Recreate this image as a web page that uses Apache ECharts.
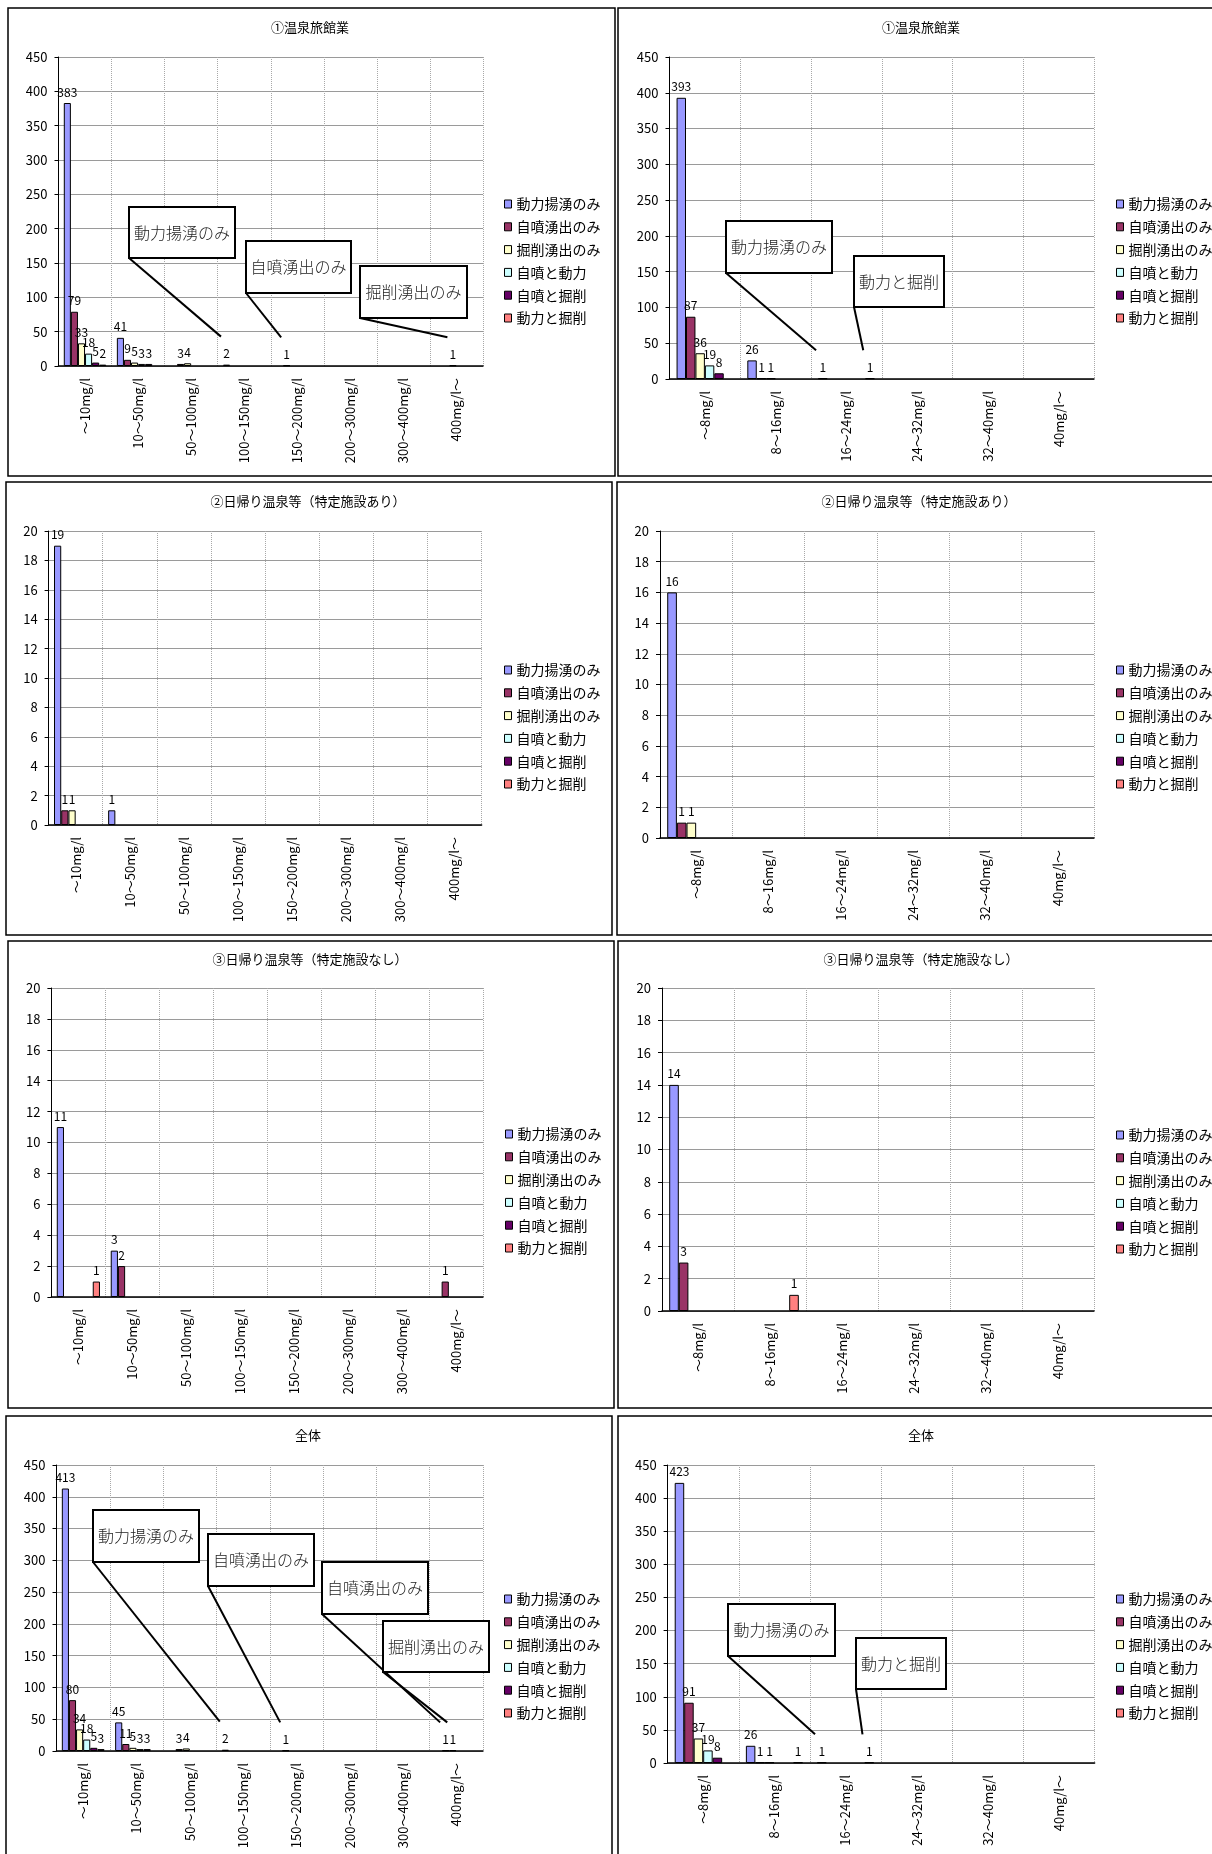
<!DOCTYPE html>
<html>
<head>
<meta charset="utf-8">
<script src="https://cdn.jsdelivr.net/npm/echarts@6/dist/echarts.min.js"></script>
<style>
html,body{margin:0;padding:0;background:#fff;}
#c{width:1212px;height:1854px;}
</style>
</head>
<body>
<div id="c"></div>
<script>
// ---------- DATA ----------
const seriesNames = ['動力揚湧のみ','自噴湧出のみ','掘削湧出のみ','自噴と動力','自噴と掘削','動力と掘削'];
const catsMg10 = ['～10mg/l','10～50mg/l','50～100mg/l','100～150mg/l','150～200mg/l','200～300mg/l','300～400mg/l','400mg/l～'];
const catsMg8 = ['～8mg/l','8～16mg/l','16～24mg/l','24～32mg/l','32～40mg/l','40mg/l～'];
const ticks450 = [0,50,100,150,200,250,300,350,400,450];
const ticks20 = [0,2,4,6,8,10,12,14,16,18,20];

// rows follow seriesNames order
const ryokanL = [
  [383, 41, null, 2, null, null, null, null],
  [79, 9, 3, null, 1, null, null, null],
  [33, 5, 4, null, null, null, null, 1],
  [18, 3, null, null, null, null, null, null],
  [5, 3, null, null, null, null, null, null],
  [2, null, null, null, null, null, null, null]
];
const ryokanR = [
  [393, 26, 1, null, null, null],
  [87, 1, null, null, null, null],
  [36, 1, null, null, null, null],
  [19, null, null, null, null, null],
  [8, null, null, null, null, null],
  [null, null, 1, null, null, null]
];
const withFacL = [
  [19, 1, null, null, null, null, null, null],
  [1, null, null, null, null, null, null, null],
  [1, null, null, null, null, null, null, null],
  [null, null, null, null, null, null, null, null],
  [null, null, null, null, null, null, null, null],
  [null, null, null, null, null, null, null, null]
];
const withFacR = [
  [16, null, null, null, null, null],
  [1, null, null, null, null, null],
  [1, null, null, null, null, null],
  [null, null, null, null, null, null],
  [null, null, null, null, null, null],
  [null, null, null, null, null, null]
];
const noFacL = [
  [11, 3, null, null, null, null, null, null],
  [null, 2, null, null, null, null, null, 1],
  [null, null, null, null, null, null, null, null],
  [null, null, null, null, null, null, null, null],
  [null, null, null, null, null, null, null, null],
  [1, null, null, null, null, null, null, null]
];
const noFacR = [
  [14, null, null, null, null, null],
  [3, null, null, null, null, null],
  [null, null, null, null, null, null],
  [null, null, null, null, null, null],
  [null, null, null, null, null, null],
  [null, 1, null, null, null, null]
];
const totalL = [
  [413, 45, null, 2, null, null, null, null],
  [80, 11, 3, null, 1, null, null, 1],
  [34, 5, 4, null, null, null, null, 1],
  [18, 3, null, null, null, null, null, null],
  [5, 3, null, null, null, null, null, null],
  [3, null, null, null, null, null, null, null]
];
const totalR = [
  [423, 26, 1, null, null, null],
  [91, 1, null, null, null, null],
  [37, 1, null, null, null, null],
  [19, null, null, null, null, null],
  [8, null, null, null, null, null],
  [null, 1, 1, null, null, null]
];

// ---------- STYLE / LAYOUT ----------
const FONT = "'Noto Sans CJK JP','Noto Sans',sans-serif";
const COLORS = ['#9999FF','#993366','#FFFFCC','#CCFFFF','#660066','#FF8080'];

const panels = [
  {title:'①温泉旅館業', cats:catsMg10, data:ryokanL, ticks:ticks450,
   box:[8,8,607,468], titleAt:[310,21], grid:[58.5,57,424.5,309], legendAt:[504,197],
   callouts:[
     {text:'動力揚湧のみ', box:[129,207,106,51], s:0, c:3},
     {text:'自噴湧出のみ', box:[246,241,105,52], s:1, c:4},
     {text:'掘削湧出のみ', box:[360,266,107,52], s:2, c:7}
   ]},
  {title:'①温泉旅館業', cats:catsMg8, data:ryokanR, ticks:ticks450,
   box:[618,8,620,468], titleAt:[921,21], grid:[669.5,57,424.5,322], legendAt:[1116,197],
   callouts:[
     {text:'動力揚湧のみ', box:[726,221,106,52], s:0, c:2},
     {text:'動力と掘削', box:[854,256,90,51], s:5, c:2}
   ]},
  {title:'②日帰り温泉等（特定施設あり）', cats:catsMg10, data:withFacL, ticks:ticks20,
   box:[6,482,606,453], titleAt:[308,495], grid:[48.6,531,433,294], legendAt:[504,663], callouts:[]},
  {title:'②日帰り温泉等（特定施設あり）', cats:catsMg8, data:withFacR, ticks:ticks20,
   box:[617,482,620,453], titleAt:[919,495], grid:[660,531,434,307], legendAt:[1116,663], callouts:[]},
  {title:'③日帰り温泉等（特定施設なし）', cats:catsMg10, data:noFacL, ticks:ticks20,
   box:[8,941,606,467], titleAt:[310,953], grid:[51.4,988,431.6,309], legendAt:[505,1127], callouts:[]},
  {title:'③日帰り温泉等（特定施設なし）', cats:catsMg8, data:noFacR, ticks:ticks20,
   box:[618,941,620,467], titleAt:[921,953], grid:[662,988,432,323], legendAt:[1116,1128], callouts:[]},
  {title:'全体', cats:catsMg10, data:totalL, ticks:ticks450,
   box:[6,1416,606,460], titleAt:[308,1429], grid:[56.5,1465,426.5,286], legendAt:[504,1592],
   callouts:[
     {text:'動力揚湧のみ', box:[93,1510,106,52], s:0, c:3},
     {text:'自噴湧出のみ', box:[208,1534,106,52], s:1, c:4},
     {text:'自噴湧出のみ', box:[322,1562,106,52], s:1, c:7},
     {text:'掘削湧出のみ', box:[383,1621,106,51], s:2, c:7}
   ]},
  {title:'全体', cats:catsMg8, data:totalR, ticks:ticks450,
   box:[618,1416,620,460], titleAt:[921,1429], grid:[667.6,1465,427,298], legendAt:[1116,1592],
   callouts:[
     {text:'動力揚湧のみ', box:[728,1604,107,52], s:0, c:2},
     {text:'動力と掘削', box:[856,1638,90,51], s:5, c:2}
   ]}
];

// ---------- BUILD ----------
const chart = echarts.init(document.getElementById('c'), null, {renderer:'canvas'});
const option = {
  animation:false,
  backgroundColor:'#fff',
  textStyle:{fontFamily:FONT},
  title:[], grid:[], xAxis:[], yAxis:[], legend:[], series:[]
};

panels.forEach((p,k)=>{
  option.title.push({
    text:p.title, left:p.titleAt[0], top:p.titleAt[1], textAlign:'center', padding:0,
    textStyle:{fontSize:13, fontWeight:'normal', color:'#000', fontFamily:FONT}
  });
  option.grid.push({
    left:p.grid[0], top:p.grid[1], width:p.grid[2], height:p.grid[3],
    containLabel:false, outerBoundsMode:'none'
  });
  option.xAxis.push({
    type:'category', gridIndex:k, data:p.cats, boundaryGap:true,
    axisLine:{show:true, lineStyle:{color:'#000', width:1.5}},
    axisTick:{show:false},
    splitLine:{show:true, lineStyle:{color:'#a8a8a8', type:'dotted', width:1}},
    axisLabel:{rotate:90, margin:12, fontSize:13, color:'#000', interval:0, fontFamily:FONT}
  });
  option.yAxis.push({
    type:'value', gridIndex:k,
    min:p.ticks[0], max:p.ticks[p.ticks.length-1], interval:p.ticks[1]-p.ticks[0],
    axisLine:{show:true, lineStyle:{color:'#000', width:1}},
    axisTick:{show:true, length:4, lineStyle:{color:'#000'}},
    splitLine:{show:true, lineStyle:{color:'#9a9a9a', width:1}},
    axisLabel:{fontSize:13, color:'#000', margin:11, fontFamily:FONT}
  });
  option.legend.push({
    orient:'vertical', left:p.legendAt[0], top:p.legendAt[1], padding:0,
    itemWidth:7, itemHeight:8, itemGap:8.8, icon:'rect', selectedMode:false,
    data:seriesNames,
    itemStyle:{borderColor:'#000', borderWidth:1},
    textStyle:{fontSize:14, color:'#000', lineHeight:14, fontFamily:FONT}
  });
  p.data.forEach((vals,s)=>{
    option.series.push({
      type:'bar', name:seriesNames[s], xAxisIndex:k, yAxisIndex:k, data:vals,
      barGap:'0%', barCategoryGap:'20%',
      itemStyle:{color:COLORS[s], borderColor:'#000', borderWidth:1},
      label:{show:true, position:'top', distance:5, fontSize:12, color:'#000', fontFamily:FONT},
      emphasis:{disabled:true}
    });
  });
});

chart.setOption(option);

// ---------- ANNOTATIONS (panel frames + callouts) ----------
const gfx = [];
panels.forEach((p,k)=>{
  gfx.push({type:'rect', silent:true, z:100,
    shape:{x:p.box[0], y:p.box[1], width:p.box[2], height:p.box[3]},
    style:{fill:'none', stroke:'#000', lineWidth:1.5}});
  const c0 = chart.convertToPixel({xAxisIndex:k}, 0);
  const c1 = chart.convertToPixel({xAxisIndex:k}, 1);
  const catW = c1 - c0;
  const barW = catW*0.8/seriesNames.length;
  p.callouts.forEach(c=>{
    const cx = chart.convertToPixel({xAxisIndex:k}, c.c);
    const topY = chart.convertToPixel({yAxisIndex:k}, p.data[c.s][c.c]);
    const ex = cx - catW*0.4 + c.s*barW - 2;
    const ey = topY - 28;
    gfx.push({type:'line', silent:true, z:90,
      shape:{x1:c.box[0], y1:c.box[1]+c.box[3], x2:ex, y2:ey},
      style:{stroke:'#000', lineWidth:2}});
    gfx.push({type:'rect', silent:true, z:91,
      shape:{x:c.box[0], y:c.box[1], width:c.box[2], height:c.box[3]},
      style:{fill:'#fff', stroke:'#000', lineWidth:2}});
    gfx.push({type:'text', silent:true, z:92,
      style:{text:c.text, x:c.box[0]+c.box[2]/2, y:c.box[1]+c.box[3]/2,
        align:'center', verticalAlign:'middle', fontSize:16, fontWeight:300, fontFamily:FONT, fill:'#222'}});
  });
});
chart.setOption({graphic:gfx});
</script>
</body>
</html>
